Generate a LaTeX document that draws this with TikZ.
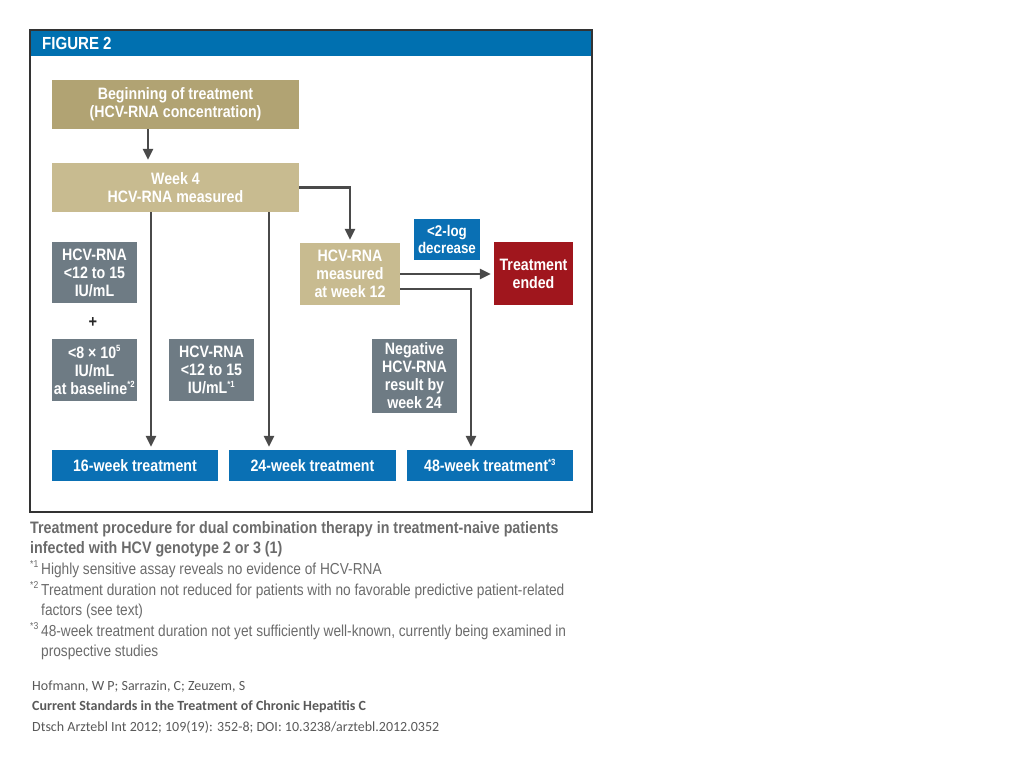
\documentclass[tikz,border=0pt]{standalone}
\usepackage{fontspec}
\usetikzlibrary{arrows.meta}
\newfontfamily\cond[FakeStretch=0.86]{Liberation Sans}
\newfontfamily\calib{Carlito}
\definecolor{hdrblue}{HTML}{0070B0}
\definecolor{tandark}{HTML}{B1A373}
\definecolor{tanlight}{HTML}{C8BB90}
\definecolor{boxgray}{HTML}{6E7B84}
\definecolor{boxblue}{HTML}{0A70B4}
\definecolor{boxred}{HTML}{A0161D}
\definecolor{arrgray}{HTML}{4A4A4A}
\definecolor{capgray}{HTML}{6B6B6B}
\definecolor{citegray}{HTML}{595959}
\tikzset{
  fbox/.style={rectangle, inner sep=0pt, text=white, align=center,
    font=\cond\bfseries\fontsize{16.5}{18}\selectfont},
  arr/.style={draw=arrgray, line width=2.8pt,
    -{Triangle[width=10pt,length=11pt]}, shorten >=3pt},
  captxt/.style={anchor=base west, inner sep=0pt, text=capgray},
  citetxt/.style={anchor=base west, inner sep=0pt, text=citegray,
    font=\calib\fontsize{14}{16}\selectfont}
}
\newcommand{\smsup}[1]{\textsuperscript{\fontsize{9}{9}\selectfont #1}}
\begin{document}
\begin{tikzpicture}[x=1pt,y=-1pt]
\useasboundingbox (0,0) rectangle (1024,768);
% frame and header
\fill[hdrblue] (30,30) rectangle (592,56);
\draw[line width=1.8pt, draw=black!80] (30,30) rectangle (592,512);
\node[anchor=base west, inner sep=0pt, text=white,
  font=\cond\bfseries\fontsize{17.5}{18}\selectfont] (fig) at (42,49) {FIGURE 2};

% boxes
\node[fbox, fill=tandark, minimum width=247pt, minimum height=49pt] (begin) at (175.5,104.5)
  {Beginning of treatment\\(HCV-RNA concentration)};
\node[fbox, fill=tanlight, minimum width=247pt, minimum height=49pt] (week4) at (175.5,187.5)
  {Week 4\\HCV-RNA measured};
\node[fbox, fill=boxgray, minimum width=85pt, minimum height=61pt] (g1) at (94.5,272.5)
  {HCV-RNA\\{<}12 to 15\\IU/mL};
\node[inner sep=0pt, text=black!85, font=\cond\bfseries\fontsize{17}{18}\selectfont] (plus) at (93,323) {+};
\node[fbox, fill=boxgray, minimum width=85pt, minimum height=62pt] (g2) at (94.5,370)
  {{<}8 × 10\smsup{5}\\IU/mL\\at baseline\smsup{*2}};
\node[fbox, fill=boxgray, minimum width=85pt, minimum height=62pt] (g3) at (211.5,370)
  {HCV-RNA\\{<}12 to 15\\IU/mL\smsup{*1}};
\node[fbox, fill=tanlight, minimum width=100pt, minimum height=62pt] (w12) at (350,274)
  {HCV-RNA\\measured\\at week 12};
\node[fbox, fill=boxblue, minimum width=66pt, minimum height=41pt,
  font=\cond\bfseries\fontsize{15.5}{17}\selectfont] (log) at (447,239.5)
  {{<}2-log\\decrease};
\node[fbox, fill=boxred, minimum width=79pt, minimum height=63pt] (ended) at (533.5,273.5)
  {Treatment\\ended};
\node[fbox, fill=boxgray, minimum width=85pt, minimum height=74pt] (neg) at (414.5,376)
  {Negative\\HCV-RNA\\result by\\week 24};
\node[fbox, fill=boxblue, minimum width=166pt, minimum height=31pt] (t16) at (135,465.5)
  {16-week treatment};
\node[fbox, fill=boxblue, minimum width=167pt, minimum height=31pt] (t24) at (312.5,465.5)
  {24-week treatment};
\node[fbox, fill=boxblue, minimum width=166pt, minimum height=31pt] (t48) at (490,465.5)
  {48-week treatment\smsup{*3}};

% connectors
\coordinate (xa) at (148,0);
\coordinate (xb) at (151,0);
\coordinate (xc) at (269,0);
\coordinate (xd) at (471,0);
\coordinate (ya) at (0,274);
\coordinate (yb) at (0,289);
\draw[arr] (begin.south -| xa) -- (week4.north -| xa);
\draw[arr] (week4.south -| xb) -- (t16.north -| xb);
\draw[arr] (week4.south -| xc) -- (t24.north -| xc);
\draw[arr] (week4.east) -| (w12.north);
\draw[arr] (w12.east |- ya) -- (ended.west |- ya);
\draw[arr] (w12.east |- yb) -| (t48.north -| xd);

% caption
\node[captxt, font=\cond\bfseries\fontsize{16.6}{18}\selectfont] (cap1) at (30,533)
  {Treatment procedure for dual combination therapy in treatment-naive patients};
\node[captxt, font=\cond\bfseries\fontsize{16.6}{18}\selectfont] (cap2) at (30,553)
  {infected with HCV genotype 2 or 3 (1)};
\tikzset{fn/.style={captxt, font=\cond\fontsize{15.9}{18}\selectfont},
  fnm/.style={captxt, font=\cond\fontsize{10}{10}\selectfont}}
\node[fnm] (m1) at (30,567) {*1};
\node[fn] (f1) at (41,574) {Highly sensitive assay reveals no evidence of HCV-RNA};
\node[fnm] (m2) at (30,588) {*2};
\node[fn] (f2) at (41,595) {Treatment duration not reduced for patients with no favorable predictive patient-related};
\node[fn] (f2b) at (41,615) {factors (see text)};
\node[fnm] (m3) at (30,629) {*3};
\node[fn] (f3) at (41,636) {48-week treatment duration not yet sufficiently well-known, currently being examined in};
\node[fn] (f3b) at (41,656) {prospective studies};

% citation
\node[citetxt] (c1) at (32,690) {Hofmann, W P; Sarrazin, C; Zeuzem, S};
\node[citetxt, font=\calib\bfseries\fontsize{14}{16}\selectfont] (c2) at (32,710) {Current Standards in the Treatment of Chronic Hepatitis C};
\node[citetxt] (c3) at (32,731) {Dtsch Arztebl Int 2012; 109(19): 352-8; DOI: 10.3238/arztebl.2012.0352};
\end{tikzpicture}
\end{document}
